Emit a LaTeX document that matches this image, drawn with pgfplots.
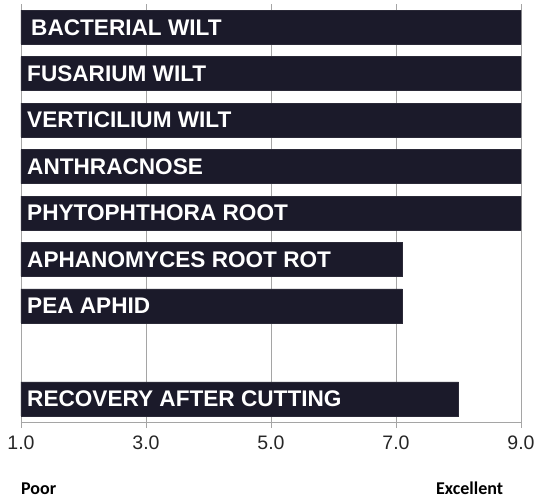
\documentclass[border=0pt]{standalone}
\usepackage{pgfplots}
\pgfplotsset{compat=1.18}
\usepackage{fontspec}
\setmainfont{Liberation Sans}
\newfontfamily\carlito{Carlito}
\definecolor{barc}{RGB}{27,26,42}
\definecolor{gridc}{RGB}{165,165,165}
\begin{document}
\begin{tikzpicture}[x=1pt,y=1pt]
\path[use as bounding box] (-21,-76) rectangle (515,422);
\begin{axis}[at={(0,0)}, anchor=south west, width=500pt, height=418pt, scale only axis,
 xmin=1, xmax=9, ymin=0.5, ymax=9.5, y dir=reverse,
 axis x line*=bottom, axis y line*=left,
 axis line style={gridc, line width=0.9pt, -},
 xtick={1,3,5,7,9}, xticklabels={1.0,3.0,5.0,7.0,9.0},
 xticklabel style={font=\fontsize{19.5}{22}\selectfont, text=black!85, yshift=-4pt},
 ytick=\empty,
 xmajorgrids, grid style={gridc, line width=0.9pt},
 tick align=outside, major tick length=6pt, tick style={gridc, line width=0.9pt},
 xbar, bar width=0.732, bar shift=0pt]
\addplot[fill=barc, draw=barc!85!gray, line width=0.5pt] coordinates {
 (9,1) (9,2) (9,3) (9,4) (9,5) (7.1,6) (7.1,7) (8.0,9)};
\begin{scope}[every node/.style={anchor=west, inner sep=0pt, text=white, font=\bfseries\fontsize{22.6}{24}\selectfont}]
\node[xshift=10pt] at (axis cs:1,1) {BACTERIAL WILT};
\node[xshift=6pt] at (axis cs:1,2) {FUSARIUM WILT};
\node[xshift=6pt] at (axis cs:1,3) {VERTICILIUM WILT};
\node[xshift=6pt] at (axis cs:1,4) {ANTHRACNOSE};
\node[xshift=6pt] at (axis cs:1,5) {PHYTOPHTHORA ROOT};
\node[xshift=6pt] at (axis cs:1,6) {APHANOMYCES ROOT ROT};
\node[xshift=6pt] at (axis cs:1,7) {PEA APHID};
\node[xshift=6pt] at (axis cs:1,9) {RECOVERY AFTER CUTTING};
\end{scope}
\end{axis}
\node[anchor=base west, inner sep=0pt, font=\carlito\bfseries\fontsize{18}{20}\selectfont] at (0,-73) {Poor};
\node[anchor=base west, inner sep=0pt, font=\carlito\bfseries\fontsize{18}{20}\selectfont] at (415,-73) {Excellent};
\end{tikzpicture}
\end{document}
